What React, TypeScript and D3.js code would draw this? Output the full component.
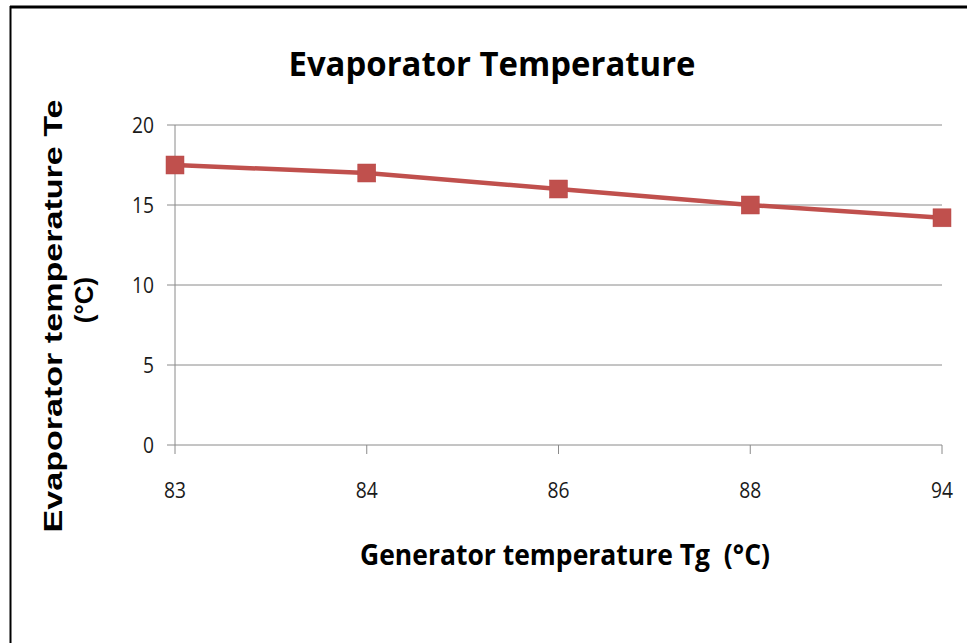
import React from "react";
import * as d3 from "d3";

const categories: string[] = ["83", "84", "86", "88", "94"];
const values: number[] = [17.5, 17, 16, 15, 14.2];
const yTicks: number[] = [0, 5, 10, 15, 20];

const W = 967;
const H = 643;
const narrow = "'Liberation Sans Narrow', 'Open Sans', 'DejaVu Sans Condensed', sans-serif";

export default function App() {
  const x = d3.scalePoint<string>().domain(categories).range([175, 942]);
  const y = d3.scaleLinear().domain([0, 20]).range([445, 125]);
  const data = categories.map((c, i) => ({ c, v: values[i] }));
  const line = d3
    .line<{ c: string; v: number }>()
    .x((d) => x(d.c) as number)
    .y((d) => y(d.v));
  const gridColor = "#8a8a8a";
  const series = "#C0504D";
  const ms = 18;

  return (
    <svg
      width={W}
      height={H}
      style={{ position: "absolute", left: 0, top: 0, background: "#fff" }}
    >
      <rect x={0} y={0} width={W} height={H} fill="#fff" />
      {/* frame */}
      <line x1={10} y1={7} x2={W} y2={7} stroke="#000" strokeWidth={3} />
      <line x1={10.5} y1={6} x2={10.5} y2={H} stroke="#000" strokeWidth={2} />

      {/* title */}
      <text
        x={492}
        y={76}
        textAnchor="middle"
        fontFamily={narrow}
        fontWeight="bold"
        fontSize={34}
        textLength={407}
        lengthAdjust="spacingAndGlyphs"
        fill="#000"
      >
        Evaporator Temperature
      </text>

      {/* gridlines */}
      {yTicks.map((t) => (
        <g key={t}>
          <line x1={167} x2={942} y1={y(t)} y2={y(t)} stroke={gridColor} strokeWidth={1} />
          <text
            x={154}
            y={y(t)}
            dy="0.36em"
            textAnchor="end"
            fontFamily={narrow}
            fontSize={21}
            textLength={t >= 10 ? 22 : 11}
            lengthAdjust="spacingAndGlyphs"
            fill="#1a1a1a"
          >
            {t}
          </text>
        </g>
      ))}
      {/* y axis line */}
      <line x1={175} x2={175} y1={125} y2={445} stroke={gridColor} strokeWidth={1} />
      {/* x ticks and labels */}
      {categories.map((c) => (
        <g key={c}>
          <line x1={x(c)} x2={x(c)} y1={445} y2={454} stroke={gridColor} strokeWidth={1} />
          <text
            x={x(c)}
            y={498}
            textAnchor="middle"
            fontFamily={narrow}
            fontSize={21}
            textLength={22}
            lengthAdjust="spacingAndGlyphs"
            fill="#1a1a1a"
          >
            {c}
          </text>
        </g>
      ))}

      {/* series */}
      <path d={line(data) as string} fill="none" stroke={series} strokeWidth={4.5} />
      {data.map((d) => (
        <rect
          key={d.c}
          x={(x(d.c) as number) - ms / 2}
          y={y(d.v) - ms / 2}
          width={ms}
          height={ms}
          fill={series}
          stroke="#b9494a"
          strokeWidth={0.5}
        />
      ))}

      {/* x axis title */}
      <text
        x={565}
        y={565}
        textAnchor="middle"
        fontFamily={narrow}
        fontWeight="bold"
        fontSize={29}
        textLength={410}
        lengthAdjust="spacingAndGlyphs"
        fill="#000"
        style={{ whiteSpace: "pre" }}
      >
        {"Generator temperature Tg  (°C)"}
      </text>

      {/* y axis title */}
      <text
        transform="translate(62,316) rotate(-90)"
        textAnchor="middle"
        fontFamily="'Liberation Sans', Arial, sans-serif"
        fontWeight="bold"
        fontSize={26}
        textLength={433}
        lengthAdjust="spacingAndGlyphs"
        fill="#000"
      >
        Evaporator temperature Te
      </text>
      <text
        transform="translate(93,300) rotate(-90)"
        textAnchor="middle"
        fontFamily="'Liberation Sans', Arial, sans-serif"
        fontWeight="bold"
        fontSize={26}
        fill="#000"
      >
        (°C)
      </text>
    </svg>
  );
}
